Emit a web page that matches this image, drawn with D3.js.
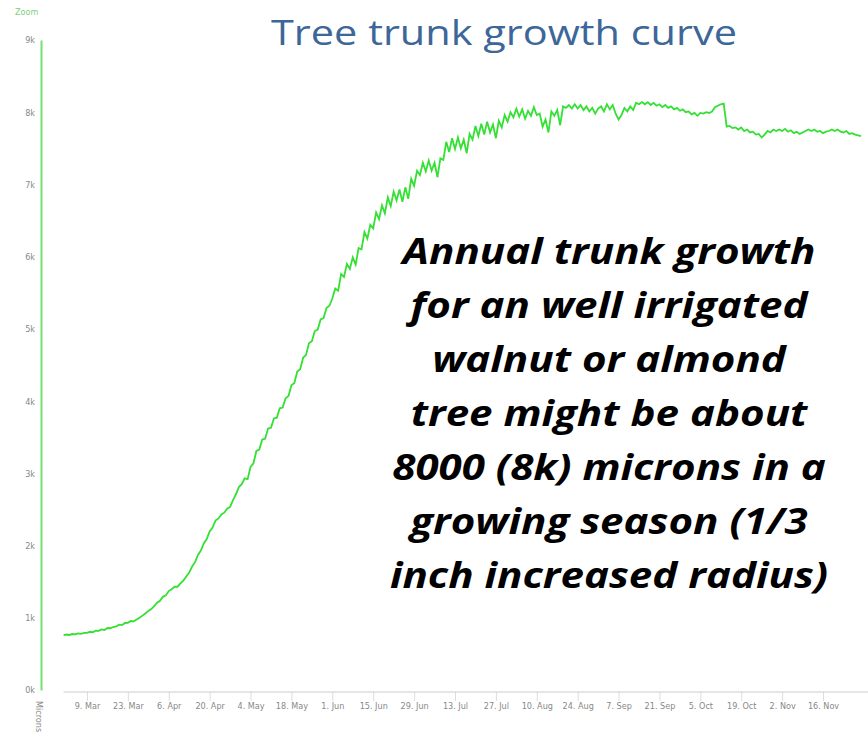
<!DOCTYPE html>
<meta charset="utf-8">
<style>
body { margin: 0; background: #fff; }

.axis text {
  font: 9px "Liberation Sans Narrow", "DejaVu Sans Condensed", sans-serif;
  fill: #888;
}
.axis--x .tick line { stroke: #ddd; }
.axis--y .domain { stroke: #74e074; stroke-width: 2; }

.title {
  font: 34px "Open Sans", sans-serif;
  fill: #3d6699;
}
.note {
  font: italic bold 36px "Open Sans", sans-serif;
  fill: #000;
}
.growth {
  fill: none;
  stroke: #33e033;
  stroke-width: 1.8;
}
</style>
<svg width="868" height="737"></svg>
<script src="https://d3js.org/d3.v7.min.js"></script>
<script>

// trunk size in microns, one value per day, Mar 1 .. Nov 29
var marValues = [760, 768, 762, 775, 770, 784, 778, 792, 790, 806, 800, 820, 818, 838, 830, 858, 855, 872, 880, 905,
                 898, 928, 930, 955, 950, 975, 1000, 1030, 1060, 1095, 1120];
var aprValues = [1160, 1210, 1235, 1290, 1310, 1370, 1395, 1432, 1430, 1475, 1515, 1572, 1625, 1710, 1770, 1870, 1930,
                 2030, 2090, 2195, 2250, 2345, 2375, 2430, 2455, 2510, 2535, 2630, 2710, 2810];
var mayValues = [2850, 2930, 2920, 3090, 3140, 3310, 3330, 3470, 3480, 3620, 3630, 3760, 3770, 3900, 3910, 4040, 4070,
                 4220, 4250, 4410, 4440, 4600, 4640, 4800, 4830, 4970, 4990, 5130, 5150, 5290, 5320];
var junValues = [5420, 5560, 5530, 5760, 5720, 5900, 5830, 5990, 5890, 6120, 6100, 6340, 6250, 6440, 6390, 6610, 6520,
                 6710, 6600, 6820, 6700, 6900, 6780, 6930, 6760, 6960, 6800, 7080, 6980, 7190];
var julValues = [7130, 7300, 7180, 7330, 7190, 7300, 7100, 7360, 7340, 7590, 7450, 7640, 7490, 7650, 7500, 7620, 7430,
                 7700, 7620, 7810, 7670, 7840, 7690, 7870, 7720, 7830, 7640, 7880, 7790, 7960, 7870];
var augValues = [8000, 7930, 8050, 7940, 8040, 7910, 8020, 7950, 8070, 7960, 7980, 7800, 7900, 7720, 8010, 7950, 8030,
                 7820, 8080, 8060, 8100, 8050, 8110, 8050, 8100, 8030, 8080, 8010, 8060, 7980, 8050];
var sepValues = [8080, 8010, 8110, 8040, 8100, 7980, 7900, 7960, 8060, 8010, 8080, 8030, 8130, 8110, 8140, 8110, 8140,
                 8100, 8130, 8090, 8110, 8070, 8100, 8060, 8080, 8040, 8060, 8020, 8040, 8000];
var octValues = [8010, 7970, 7990, 7950, 7990, 7980, 8000, 7990, 8010, 8070, 8090, 8110, 8120, 7800, 7810, 7780, 7790,
                 7760, 7790, 7740, 7760, 7720, 7730, 7690, 7700, 7650, 7690, 7740, 7720, 7760, 7740];
var novValues = [7760, 7740, 7770, 7730, 7750, 7710, 7730, 7700, 7720, 7740, 7760, 7740, 7760, 7730, 7740, 7710, 7730,
                 7740, 7760, 7740, 7760, 7730, 7720, 7740, 7700, 7710, 7690, 7680, 7670];

var yTicks = [0, 1000, 2000, 3000, 4000, 5000, 6000, 7000, 8000, 9000];
var titleText = "Tree trunk growth curve";
var noteLines = ["Annual trunk growth", "for an well irrigated", "walnut or almond", "tree might be about",
                 "8000 (8k) microns in a", "growing season (1/3", "inch increased radius)"];

var year = 2015;
var data = [];
[marValues, aprValues, mayValues, junValues, julValues, augValues, sepValues, octValues, novValues]
  .forEach(function(vals, m) {
    vals.forEach(function(v, i) {
      data.push({date: new Date(year, 2 + m, i + 1), value: v});
    });
  });

var svg = d3.select("svg"),
    width = +svg.attr("width"),
    height = +svg.attr("height");

var x = d3.scaleTime()
    .domain([new Date(year, 2, 1), new Date(year, 10, 29)])
    .range([63.6, 861]);
var y = d3.scaleLinear()
    .domain([0, 9000])
    .range([690, 40]);

// x axis, a tick every two weeks from 9 Mar
var tickDates = d3.timeDay.range(new Date(year, 2, 9), new Date(year, 10, 20), 14);

var gx = svg.append("g")
    .attr("class", "axis axis--x")
    .attr("transform", "translate(0,692)")
    .call(d3.axisBottom(x)
      .tickValues(tickDates)
      .tickFormat(d3.timeFormat("%-d. %b"))
      .tickSize(9)
      .tickPadding(2));
gx.select(".domain").remove();
gx.append("line")
    .attr("x1", x.range()[0])
    .attr("x2", width)
    .attr("stroke", "#ccc");

var gy = svg.append("g")
    .attr("class", "axis axis--y")
    .attr("transform", "translate(41,0)")
    .call(d3.axisLeft(y)
      .tickValues(yTicks)
      .tickSize(0)
      .tickPadding(6)
      .tickFormat(function(d) { return (d / 1000) + "k"; }));

svg.append("text")
    .attr("transform", "translate(36,701) rotate(90)")
    .attr("fill", "#888")
    .style("font", "9px 'Liberation Sans Narrow', 'DejaVu Sans Condensed', sans-serif")
    .text("Microns");

svg.append("text")
    .attr("x", 15)
    .attr("y", 15)
    .attr("fill", "#7ccf7c")
    .style("font", "9px 'Liberation Sans Narrow', 'DejaVu Sans Condensed', sans-serif")
    .text("Zoom");

var line = d3.line()
    .x(function(d) { return x(d.date); })
    .y(function(d) { return y(d.value); });

svg.append("path")
    .datum(data)
    .attr("class", "growth")
    .attr("d", line);

// slide text is a little stretched sideways in the source
svg.append("text")
    .attr("class", "title")
    .attr("transform", "translate(504,45) scale(1.22,1)")
    .attr("text-anchor", "middle")
    .text(titleText);

svg.append("g")
    .attr("transform", "translate(609,0) scale(1.17,1)")
  .selectAll("text")
  .data(noteLines)
  .enter().append("text")
    .attr("class", "note")
    .attr("y", function(d, i) { return 264 + i * 54; })
    .attr("text-anchor", "middle")
    .text(function(d) { return d; });

</script>
